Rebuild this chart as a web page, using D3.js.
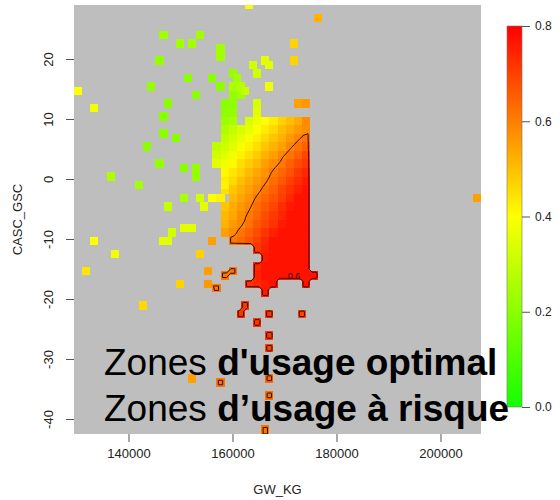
<!DOCTYPE html>
<html>
<head>
<meta charset="utf-8">
<script src="https://cdn.jsdelivr.net/npm/d3@7"></script>
<style>
  body { margin: 0; background: #fff; }
  text { font-family: "Liberation Sans", Arial, sans-serif; }
</style>
</head>
<body>
<div id="chart"></div>
<script>
// Frame and plot region
const FRAME_WIDTH = 560;
const FRAME_HEIGHT = 500;
const PLOT = {left: 74, right: 481, top: 5, bottom: 434};
const BAR = {left: 507, width: 15, top: 26, bottom: 407};

// Axis ranges and ticks
const gwRange = [129520, 207790];
const cascRange = [-42.5, 29];
const xTicks = [140000, 160000, 180000, 200000];
const yTicks = [20, 10, 0, -10, -20, -30, -40];
const legendTicks = [0, 0.2, 0.4, 0.6, 0.8];
const contourLevel = 0.6;

// Prediction grid (100 x 100), main zone given by blocks of 2x2 cells, values in hundredths
const nGrid = 100;
const blobOrigin = [32, 20];
const blobRows = [
  "-- -- -- 22 24 -- -- -- -- -- -- -- -- --",
  "-- -- 20 21 -- -- 33 -- -- -- -- -- -- --",
  "-- -- 21 22 -- -- 35 -- -- -- -- -- -- --",
  "-- -- 23 25 -- 33 37 40 43 47 50 53 -- --",
  "-- -- 26 30 33 36 40 43 46 50 53 56 58 --",
  "-- -- 29 32 36 39 42 46 49 52 56 59 62 --",
  "-- 29 32 35 39 42 45 49 52 55 59 62 65 --",
  "-- 32 35 38 42 45 48 52 55 59 62 65 69 --",
  "-- 35 38 41 45 48 51 55 58 61 65 68 71 --",
  "-- -- 41 44 47 51 54 57 61 64 67 71 74 --",
  "-- -- 43 46 50 53 56 59 63 66 70 73 76 --",
  "-- -- 45 49 52 55 58 62 65 69 72 75 77 --",
  "-- -- -- 51 54 57 61 64 67 70 74 77 77 --",
  "-- -- 49 53 56 59 63 66 69 73 76 77 77 --",
  "-- -- 51 54 58 61 64 68 71 74 77 77 77 --",
  "-- -- 52 56 59 62 66 69 72 76 77 77 77 --",
  "-- -- 55 58 62 65 68 72 75 77 77 77 77 --",
  "-- -- -- 61 64 67 70 74 77 77 77 77 77 --",
  "-- -- -- -- -- -- 72 75 77 77 77 77 77 --",
  "-- -- -- -- -- -- -- 76 77 77 77 77 77 --",
  "-- -- -- -- -- -- 74 77 77 77 77 77 77 --",
  "-- -- -- -- -- -- 75 77 77 77 77 77 77 77",
  "-- -- -- -- -- 72 74 76 77 -- -- -- 77 --",
  "-- -- -- -- -- -- -- 76 -- -- -- -- -- --"
];

// Isolated observations (each keeps a 2x2 patch of the grid)
const ptGW = [163170, 146580, 149750, 152150, 153750, 157630, 157630, 145730, 164000, 166380,
  167080, 164770, 151350, 156020, 160100, 160960, 144135, 157630, 160100, 161630,
  162460, 167080, 152940, 130155, 133116, 147310, 146580, 146580, 148980, 143330,
  145580, 150540, 152880, 152880, 136289, 141827, 150540, 153750, 154480, 147365,
  150540, 152150, 148135, 146580, 147365, 133116, 137077, 153750, 131578, 149750,
  155100, 155153, 156830, 142558, 156000, 158170, 159710, 162210, 161630, 167057,
  164807, 173420, 167057, 167057, 167057, 157630, 152020, 167057, 166400, 176670,
  171860, 171860, 172790, 174134, 174170, 207270, 156057, 157790, 158365];
const ptCASC = [29.3, 24.3, 22.9, 22.9, 24.3, 22.1, 20.7, 20.0, 19.25, 20.0,
  19.25, 17.8, 17.05, 17.05, 17.8, 17.0, 15.6, 15.6, 15.67, 15.67,
  15.0, 15.6, 14.25, 14.97, 12.1, 12.9, 10.7, 7.8, 7.05, 5.6,
  2.6, 1.9, 1.9, 0.5, 0.55, -0.85, -2.97, -2.97, -4.37, -4.47,
  -8.08, -8.08, -8.8, -10.2, -10.2, -10.2, -12.37, -12.37, -15.2, -17.37,
  -15.25, -17.42, -18.1, -21.0, -10.25, -16.0, -15.33, -20.8, -22.2, -22.2,
  -23.75, -22.2, -26.0, -28.2, -33.2, -33.9, -33.3, -36.1, -41.8, 27.2,
  22.9, 20.0, 12.9, 12.9, 9.97, -2.97, -3.0, -3.0, -0.83];
const ptVal = [.38, .24, .24, .24, .24, .24, .24, .22, .32, .35,
  .35, .32, .2, .2, .22, .24, .22, .2, .25, .27,
  .3, .37, .2, .4, .38, .2, .2, .2, .2, .2,
  .22, .2, .22, .22, .26, .24, .25, .32, .35, .3,
  .35, .35, .32, .35, .35, .4, .38, .47, .44, .47,
  .55, .56, .61, .46, .55, .62, .62, .72, .72, .72,
  .72, .7, .72, .7, .64, .62, .55, .63, .62, .52,
  .47, .47, .55, .56, .58, .55, .4, .42, .42];

// Scales
const X = d3.scaleLinear().domain(gwRange).range([PLOT.left, PLOT.right]);
const Y = d3.scaleLinear().domain(cascRange).range([PLOT.bottom, PLOT.top]);
const color = d3.scaleLinear().domain([0, 0.4, 0.8])
  .range(["#14ff00", "#ffff00", "#ff0000"]).clamp(true);

const dx = (gwRange[1] - gwRange[0]) / nGrid;
const dy = (cascRange[1] - cascRange[0]) / nGrid;

// Fill the grid: z for the image, zc for the contour (block centres blended so the line is not stepped)
const blob = blobRows.map(r => r.trim().split(/\s+/).map(s => s === "--" ? null : +s / 100));
function blobAt(r, c) {
  return (r >= 0 && r < blob.length && c >= 0 && c < blob[0].length) ? blob[r][c] : null;
}
const z = new Array(nGrid * nGrid).fill(null);
const zc = new Array(nGrid * nGrid).fill(0);
function setCell(i, j, v, vc) {
  if (i < 0 || j < 0 || i >= nGrid || j >= nGrid) return;
  z[i + j * nGrid] = v;
  zc[i + j * nGrid] = vc;
}
blob.forEach((row, r) => {
  row.forEach((v, c) => {
    if (v === null) return;
    for (let di = 0; di < 2; di++)
      for (let dj = 0; dj < 2; dj++) {
        const u = c + (di - 0.5) / 2, w = r + (dj - 0.5) / 2;
        const c0 = Math.floor(u), r0 = Math.floor(w), fu = u - c0, fw = w - r0;
        const q = [blobAt(r0, c0), blobAt(r0, c0 + 1), blobAt(r0 + 1, c0), blobAt(r0 + 1, c0 + 1)];
        const vc = q.every(e => e !== null)
          ? (q[0] * (1 - fu) + q[1] * fu) * (1 - fw) + (q[2] * (1 - fu) + q[3] * fu) * fw
          : v;
        setCell(blobOrigin[0] + 2 * c + di, blobOrigin[1] + 2 * r + dj, v, vc);
      }
  });
});
ptGW.forEach((gw, k) => {
  const i0 = Math.round((gw - gwRange[0]) / dx) - 1;
  const j0 = Math.round((cascRange[1] - ptCASC[k]) / dy) - 1;
  for (let di = 0; di < 2; di++)
    for (let dj = 0; dj < 2; dj++) setCell(i0 + di, j0 + dj, ptVal[k], ptVal[k]);
});

const cells = [];
z.forEach((v, idx) => { if (v !== null) cells.push({i: idx % nGrid, j: Math.floor(idx / nGrid), v: v}); });

const svg = d3.select("#chart").append("svg")
  .attr("width", FRAME_WIDTH)
  .attr("height", FRAME_HEIGHT);

svg.append("defs").append("clipPath").attr("id", "plotClip")
  .append("rect")
    .attr("x", PLOT.left).attr("y", PLOT.top)
    .attr("width", PLOT.right - PLOT.left).attr("height", PLOT.bottom - PLOT.top);

// Gray background (excluded area)
svg.append("rect")
  .attr("x", PLOT.left).attr("y", PLOT.top)
  .attr("width", PLOT.right - PLOT.left).attr("height", PLOT.bottom - PLOT.top)
  .attr("fill", "#bebebe");

const plot = svg.append("g").attr("clip-path", "url(#plotClip)");

plot.append("g").attr("shape-rendering", "crispEdges")
  .selectAll("rect")
  .data(cells)
  .enter()
  .append("rect")
    .attr("x", d => X(gwRange[0] + d.i * dx))
    .attr("y", d => Y(cascRange[1] - d.j * dy))
    .attr("width", d => X(gwRange[0] + (d.i + 1) * dx) - X(gwRange[0] + d.i * dx))
    .attr("height", d => Y(cascRange[1] - (d.j + 1) * dy) - Y(cascRange[1] - d.j * dy))
    .attr("fill", d => color(d.v));

// Contour at 0.6
const contours = d3.contours().size([nGrid, nGrid]).thresholds([contourLevel])(zc);
const proj = d3.geoTransform({
  point: function(x, y) { this.stream.point(X(gwRange[0] + x * dx), Y(cascRange[1] - y * dy)); }
});
plot.append("g")
  .selectAll("path")
  .data(contours)
  .enter()
  .append("path")
    .attr("d", d3.geoPath(proj))
    .attr("fill", "none")
    .attr("stroke", "#2a0d00")
    .attr("stroke-width", 1);

plot.append("text")
  .attr("x", X(171826)).attr("y", Y(-16.67))
  .attr("text-anchor", "middle")
  .attr("font-size", 9)
  .attr("fill", "#3a1200")
  .text("0.6");

// Axes
svg.append("g")
  .attr("transform", "translate(0," + PLOT.bottom + ")")
  .call(d3.axisBottom(X).tickValues(xTicks).tickSize(8).tickPadding(7).tickFormat(d => String(d)))
  .call(g => g.select(".domain").remove())
  .call(g => g.selectAll(".tick line").attr("stroke", "#555"))
  .call(g => g.selectAll(".tick text").attr("font-size", 13).attr("fill", "#222"));

svg.append("g")
  .attr("transform", "translate(" + PLOT.left + ",0)")
  .call(d3.axisLeft(Y).tickValues(yTicks).tickSize(8).tickFormat(d => String(d)))
  .call(g => g.select(".domain").remove())
  .call(g => g.selectAll(".tick line").attr("stroke", "#555"))
  .call(g => g.selectAll(".tick text")
    .attr("font-size", 13).attr("fill", "#222")
    .attr("transform", "rotate(-90)")
    .attr("x", 0).attr("y", -21).attr("dy", 0)
    .attr("text-anchor", "middle"));

svg.append("text")
  .attr("transform", "translate(22," + ((PLOT.top + PLOT.bottom) / 2) + ") rotate(-90)")
  .attr("text-anchor", "middle")
  .attr("font-size", 13).attr("fill", "#222")
  .text("CASC_GSC");

svg.append("text")
  .attr("x", (PLOT.left + PLOT.right) / 2).attr("y", 494)
  .attr("text-anchor", "middle")
  .attr("font-size", 13).attr("fill", "#222")
  .text("GW_KG");

// Colour bar
const L = d3.scaleLinear().domain([0, 0.8]).range([BAR.bottom, BAR.top]);
const grad = svg.select("defs").append("linearGradient")
  .attr("id", "barGrad").attr("x1", 0).attr("y1", 1).attr("x2", 0).attr("y2", 0);
d3.range(0, 0.81, 0.1).forEach(v => {
  grad.append("stop").attr("offset", v / 0.8).attr("stop-color", color(v));
});
svg.append("rect")
  .attr("x", BAR.left).attr("y", BAR.top)
  .attr("width", BAR.width).attr("height", BAR.bottom - BAR.top)
  .attr("fill", "url(#barGrad)")
  .attr("stroke", "#777").attr("stroke-width", 0.6);

svg.append("g")
  .attr("transform", "translate(" + (BAR.left + BAR.width) + ",0)")
  .call(d3.axisRight(L).tickValues(legendTicks).tickSize(8).tickPadding(5).tickFormat(d3.format(".1f")))
  .call(g => g.select(".domain").remove())
  .call(g => g.selectAll(".tick line").attr("stroke", "#555"))
  .call(g => g.selectAll(".tick text").attr("font-size", 12).attr("fill", "#222"));

// Annotation
const note = svg.append("g").attr("font-size", 37).attr("fill", "#000");
const l1 = note.append("text").attr("x", 104).attr("y", 375);
l1.append("tspan").text("Zones ");
l1.append("tspan").attr("font-weight", "bold").text("d'usage optimal");
const l2 = note.append("text").attr("x", 104).attr("y", 420.5);
l2.append("tspan").text("Zones ");
l2.append("tspan").attr("font-weight", "bold").text("d\u2019usage \u00e0 risque");
</script>
</body>
</html>
